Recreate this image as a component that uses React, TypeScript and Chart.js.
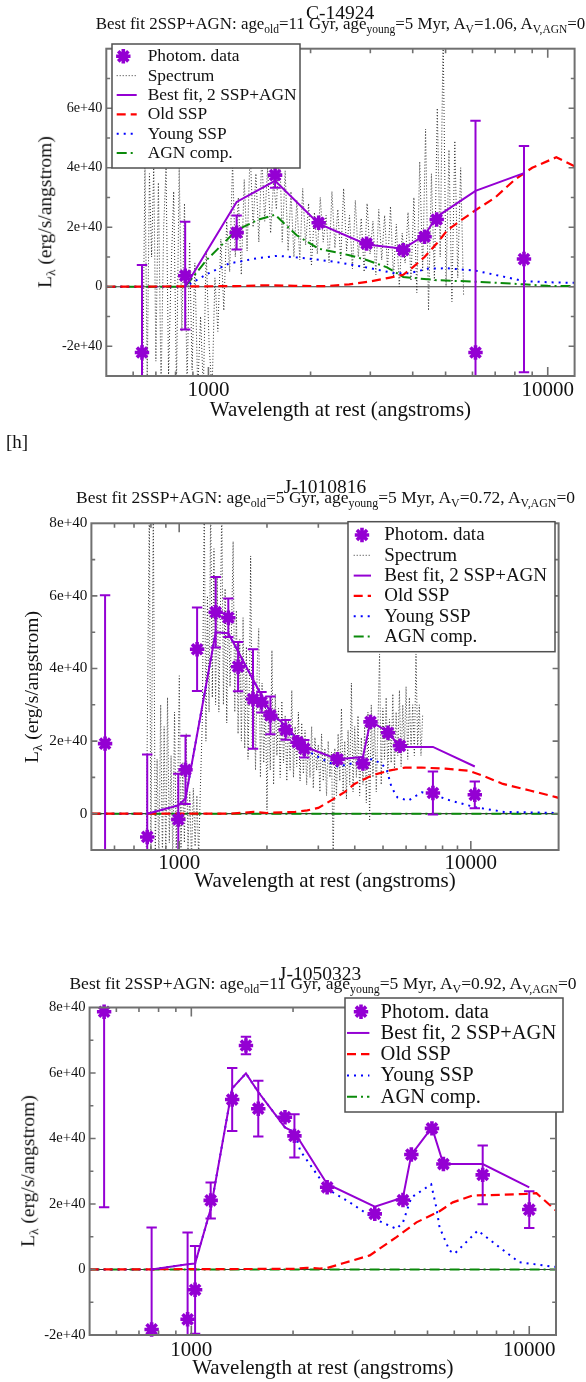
import React, { useEffect, useRef } from "react";
import { Chart, registerables } from "chart.js";

Chart.register(...registerables);

const SERIF = '"Liberation Serif", "Times New Roman", serif';
const PURPLE = "#9400d3";
const RED = "#ff0000";
const BLUE = "#0000ff";
const GREEN = "#0a8a0a";
const SPEC_GREY = "#333333";
const FRAME_GREY = "#707070";

// Flux densities are in units of 1e40 erg/s/angstrom, wavelengths in angstroms.

// ---------- C-14924 ----------
const c1PhotWave = [637, 854, 1211, 1572, 2113, 2925, 3751, 4335, 4707, 6125, 8511];
const c1PhotFlux = [-2.21, 0.37, 1.82, 3.75, 2.15, 1.45, 1.23, 1.68, 2.26, -2.21, 0.93];
const c1PhotErr = [2.94, 1.81, 0.57, 0.42, 0.1, 0.08, 0.08, 0.1, 0.1, 7.79, 3.8];
const c1FitWave = [854, 1211, 1572, 2113, 2925, 3751, 4335, 4707, 6125, 8511];
const c1FitFlux = [0.0, 2.85, 3.56, 2.12, 1.42, 1.28, 1.73, 2.35, 3.22, 3.82];
const c1OldWave = [500, 1200, 1500, 1800, 2200, 2600, 3000, 3400, 3751, 4000, 4335, 4707, 5060, 5500, 6125, 7000, 8000, 9000, 10600, 12000];
const c1OldFlux = [0, 0.02, 0.05, 0.03, 0.02, 0.08, 0.18, 0.3, 0.4, 0.65, 1.0, 1.45, 1.9, 2.2, 2.57, 3.0, 3.6, 4.0, 4.35, 4.05];
const c1YoungWave = [500, 854, 1000, 1150, 1410, 1600, 1970, 2350, 2925, 3540, 3900, 4450, 5060, 6125, 7400, 8511, 10000, 12000];
const c1YoungFlux = [0, 0, 0.45, 0.78, 0.97, 1.04, 0.95, 0.84, 0.65, 0.45, 0.45, 0.61, 0.62, 0.54, 0.34, 0.19, 0.15, 0.13];
const c1AgnWave = [500, 854, 988, 1211, 1400, 1572, 1820, 2113, 2600, 2925, 3360, 3751, 4707, 6125, 8511, 10000, 12000];
const c1AgnFlux = [0, 0, 0.9, 1.9, 2.25, 2.42, 1.73, 1.28, 1.06, 0.9, 0.65, 0.33, 0.22, 0.17, 0.08, 0.03, 0.02];
const c1SpecWave = [640, 650, 660, 670, 680, 690, 700, 712, 725, 738, 750, 763, 776, 790, 805, 820, 835, 850, 865, 880, 895, 912, 930, 948, 966, 985, 1005, 1025, 1045, 1066, 1088, 1110, 1132, 1155, 1178, 1200, 1225, 1250, 1275, 1300, 1327, 1354, 1380, 1408, 1436, 1465, 1494, 1525, 1555, 1586, 1618, 1650, 1683, 1717, 1751, 1786, 1822, 1859, 1896, 1934, 1973, 2012, 2053, 2094, 2136, 2179, 2222, 2267, 2312, 2359, 2406, 2454, 2503, 2554, 2605, 2657, 2710, 2765, 2820, 2877, 2935, 2994, 3054, 3115, 3177, 3241, 3306, 3372, 3440, 3509, 3579, 3651, 3724, 3799, 3875, 3953, 4032, 4113, 4195, 4279, 4365, 4453, 4542, 4633, 4726, 4820, 4917, 5016, 5116, 5219, 5323, 5430, 5539, 5650];
const c1SpecFlux = [-3.5, 4.2, -3.2, 3.8, 1.0, 4.1, -2.5, 3.5, -3.5, 2.0, 4.0, -3.0, 0.5, 3.2, -3.4, 4.0, -1.5, 2.8, -3.5, 1.5, -2.8, 0.8, -3.5, -1.0, -3.5, 1.2, -2.0, -3.5, 0.3, -1.5, 1.6, -0.8, 2.2, 0.5, 4.2, 1.0, 3.0, 0.4, 3.6, 1.2, 4.6, 2.0, 3.8, 1.5, 4.4, 2.2, 4.0, 1.8, 3.5, 2.6, 5.1, 1.5, 3.9, 1.2, 3.2, 1.0, 2.9, 0.9, 3.3, 1.4, 2.8, 0.7, 2.5, 1.1, 3.0, 1.5, 2.4, 0.8, 3.2, 1.3, 2.6, 0.9, 3.3, 1.2, 2.4, 0.6, 2.9, 1.0, 2.3, 0.5, 2.8, 1.1, 2.2, 0.4, 2.6, 0.9, 2.4, 0.6, 2.7, 0.3, 2.1, 0.0, 1.8, 0.8, 2.5, 0.2, 3.0, -0.2, 4.2, 0.5, 5.3, -0.8, 3.8, 0.2, 6.0, 1.0, 8.5, 0.0, 4.6, -0.5, 4.9, 0.3, 4.0, -0.3];
const c1YLabels = [-2, 0, 2, 4, 6];

// ---------- J-1010816 ----------
const j1PhotWave = [557, 777, 993, 1051, 1152, 1334, 1474, 1592, 1791, 1915, 2055, 2318, 2546, 2685, 3491, 4266, 4529, 5200, 5715, 7415, 10320];
const j1PhotFlux = [1.93, -0.64, -0.16, 1.21, 4.53, 5.55, 5.4, 4.05, 3.16, 3.07, 2.71, 2.31, 1.97, 1.79, 1.5, 1.38, 2.53, 2.23, 1.87, 0.57, 0.52];
const j1PhotErr = [4.09, 2.27, 1.26, 0.94, 1.15, 0.97, 0.53, 0.68, 1.37, 0.28, 0.52, 0.27, 0.1, 0.24, 0.1, 0.1, 0.1, 0.1, 0.1, 0.59, 0.37];
const j1FitWave = [777, 993, 1051, 1334, 1474, 2055, 2318, 2546, 2685, 3491, 4266, 4529, 5200, 5715, 7415, 10320];
const j1FitFlux = [0.0, 0.23, 0.42, 5.0, 4.97, 2.8, 2.42, 2.05, 1.85, 1.5, 1.56, 2.55, 2.25, 1.84, 1.84, 1.3];
const j1OldWave = [500, 1500, 1800, 2000, 2300, 2500, 2750, 3000, 3311, 3700, 3990, 4560, 5204, 5945, 6790, 8187, 9867, 10980, 12880, 15940, 19720, 20000];
const j1OldFlux = [0, 0, 0.05, 0.02, 0.04, 0.05, 0.09, 0.16, 0.36, 0.6, 0.82, 1.05, 1.18, 1.27, 1.27, 1.24, 1.18, 1.05, 0.82, 0.64, 0.45, 0.43];
const j1YoungWave = [500, 777, 993, 1051, 1334, 1474, 2055, 2318, 2546, 2685, 2750, 3100, 3491, 4000, 4266, 4560, 4900, 5140, 5347, 5600, 6100, 6800, 7415, 8200, 10320, 13000, 20000];
const j1YoungFlux = [0, 0, 0.23, 0.42, 5.0, 4.97, 2.8, 2.4, 2.0, 1.8, 1.73, 1.5, 1.3, 1.4, 1.45, 1.5, 1.4, 1.23, 0.73, 0.45, 0.36, 0.59, 0.55, 0.4, 0.18, 0.05, 0.02];
const j1AgnWave = [500, 20000];
const j1AgnFlux = [0, 0];
const j1SpecPairs = [
  [770, -1.5], [790, 8.5], [800, -1.2], [815, 8.5], [828, -1.0], [840, 1.5], [852, -1.3], [864, 3.0],
  [876, -1.2], [888, 2.4], [900, -1.4], [912, 3.2], [925, -0.8], [938, 1.6], [951, -1.3], [964, 2.8],
  [977, -1.0], [990, 1.0], [1001, 3.8], [1014, -1.2], [1028, 1.4], [1042, -0.8], [1057, 2.2], [1072, -1.0],
  [1087, 0.6], [1102, -1.3], [1118, 0.7], [1134, -0.9], [1150, 0.5], [1166, -1.2], [1182, 0.7], [1200, 2.5],
  [1219, 8.5], [1235, 2.0], [1250, 6.0], [1266, 2.8], [1282, 8.5], [1299, 3.2], [1316, 7.3], [1333, 3.0],
  [1350, 6.5], [1368, 2.8], [1386, 5.8], [1400, 8.5], [1418, 3.0], [1437, 6.2], [1456, 2.5], [1475, 5.9],
  [1494, 3.5], [1513, 5.2], [1531, 7.5], [1551, 2.8], [1571, 5.6], [1592, 2.2], [1613, 4.8], [1634, 2.0],
  [1656, 5.4], [1678, 1.8], [1700, 4.6], [1722, 1.5], [1745, 4.2], [1758, 7.1], [1780, 1.8], [1803, 3.8],
  [1827, 1.2], [1851, 4.0], [1874, 5.1], [1899, 1.0], [1924, 3.6], [1949, 1.4], [1975, 3.2], [2000, 0.1],
  [2026, 3.0], [2053, 1.2], [2080, 4.5], [2107, 0.8], [2135, 3.3], [2163, 1.6], [2191, 2.9], [2220, 1.0],
  [2249, 3.1], [2279, 1.4], [2309, 2.7], [2339, 0.9], [2370, 2.6], [2401, 1.2], [2433, 3.4], [2465, 1.0],
  [2497, 2.4], [2530, 1.3], [2563, 2.8], [2597, 0.9], [2631, 2.5], [2666, 1.1], [2701, 2.3], [2736, 0.8],
  [2772, 2.0], [2809, 1.0], [2846, 2.4], [2883, 0.7], [2921, 2.1], [2960, 1.2], [2999, 1.9], [3038, 0.6],
  [3078, 2.2], [3119, 0.9], [3160, 1.8], [3201, 0.5], [3243, 2.0], [3286, 1.0], [3329, 1.7], [3373, -1.2],
  [3417, 1.8], [3462, 0.5], [3508, 2.2], [3554, 0.9], [3601, 2.9], [3648, 0.6], [3696, 2.0], [3745, 0.4],
  [3794, 2.3], [3844, 0.8], [3895, 3.6], [3946, 0.6], [3998, 2.4], [4051, 1.0], [4104, 2.7], [4158, 0.5],
  [4213, 2.1], [4268, 0.8], [4325, 2.4], [4382, 0.3], [4439, 2.8], [4498, -0.2], [4557, 3.0], [4617, 1.0],
  [4678, 2.6], [4740, 0.6], [4802, 2.4], [4865, 4.4], [4929, 0.8], [4994, 2.9], [5060, 1.5], [5126, 3.2],
  [5194, 1.1], [5262, 2.6], [5332, 1.4], [5402, 3.3], [5473, 1.2], [5545, 2.8], [5618, 1.6], [5692, 3.4],
  [5767, 1.3], [5843, 3.0], [5920, 1.8], [5998, 3.5], [6077, 1.5], [6157, 3.2], [6238, 1.8], [6320, 3.0],
  [6403, 1.6], [6487, 4.4], [6573, 1.8], [6659, 3.0], [6747, 1.6], [6836, 2.7],
];
const j1SpecWave = j1SpecPairs.map((p) => p[0]);
const j1SpecFlux = j1SpecPairs.map((p) => p[1]);
const j1YLabels = [0, 2, 4, 6, 8];

// ---------- J-1050323 ----------
const j2PhotWave = [552, 763, 975, 1026, 1141, 1321, 1451, 1578, 1893, 2019, 2523, 3491, 4230, 4478, 5153, 5571, 7282, 10000];
const j2PhotFlux = [7.87, -1.83, -1.52, -0.62, 2.11, 5.19, 6.84, 4.91, 4.65, 4.08, 2.51, 1.7, 2.12, 3.51, 4.31, 3.22, 2.89, 1.83];
const j2PhotErr = [5.97, 3.11, 2.65, 1.34, 0.55, 0.96, 0.27, 0.85, 0.1, 0.66, 0.1, 0.1, 0.1, 0.1, 0.1, 0.1, 0.9, 0.56];
const j2FitWave = [763, 975, 1026, 1141, 1321, 1451, 1578, 1893, 2019, 2523, 3491, 4230, 4478, 5153, 5571, 7282, 10000];
const j2FitFlux = [0.0, 0.16, 0.18, 1.85, 5.53, 5.99, 5.42, 4.34, 4.19, 2.61, 1.92, 2.2, 3.51, 4.34, 3.22, 3.22, 2.51];
const j2OldWave = [500, 2000, 2200, 2400, 2512, 2812, 3374, 4046, 4637, 5427, 5940, 6810, 8157, 9776, 10500, 11850, 12000];
const j2OldFlux = [0, 0.02, 0.05, 0.03, 0.04, 0.19, 0.43, 0.99, 1.44, 1.78, 2.05, 2.26, 2.28, 2.31, 2.33, 1.85, 1.8];
const j2YoungWave = [500, 763, 975, 1026, 1141, 1321, 1451, 1578, 1893, 2019, 2100, 2523, 2944, 3491, 4046, 4230, 4478, 4956, 5127, 5308, 5427, 5807, 6010, 7046, 8157, 9344, 11720, 12000];
const j2YoungFlux = [0, 0, 0.16, 0.18, 1.85, 5.53, 5.99, 5.42, 4.34, 4.19, 3.63, 2.46, 2.05, 1.54, 1.24, 1.44, 2.2, 2.5, 2.6, 1.9, 1.29, 0.58, 0.48, 1.19, 0.68, 0.22, 0.09, 0.08];
const j2AgnWave = [500, 12000];
const j2AgnFlux = [0, 0];
const j2YLabels = [-2, 0, 2, 4, 6, 8];

// Line / marker styles shared by the plotted series and the legend keys
const STYLES = {
  phot: { color: PURPLE, radius: 7.2, width: 3.6 },
  spec: { color: SPEC_GREY, width: 1, dash: [1, 2] },
  fit: { color: PURPLE, width: 2, dash: [] },
  old: { color: RED, width: 2.2, dash: [9, 5] },
  young: { color: BLUE, width: 2, dash: [2, 5] },
  agn: { color: GREEN, width: 2, dash: [10, 4, 2, 4] },
};

const LEGEND_LABELS = {
  phot: "Photom. data",
  spec: "Spectrum",
  fit: "Best fit, 2 SSP+AGN",
  old: "Old SSP",
  young: "Young SSP",
  agn: "AGN comp.",
};

const panels = [
  {
    id: "c14924",
    name: "C-14924",
    ageOld: "11 Gyr",
    ageYoung: "5 Myr",
    av: "1.06",
    band: { top: 0, height: 430 },
    plot: { left: 106.3, top: 48.7, right: 574.6, bottom: 376 },
    xRange: [500, 12000],
    yRange: [-3, 8],
    yLabels: c1YLabels,
    titleX: 340,
    titleY: 13,
    subX: 340.5,
    subY: 24,
    subSize: 16.9,
    yTitleX: 45,
    yTickSize: 14.2,
    xTickY: 390.7,
    xTitleY: 410,
    legend: { x: 112, y: 44, w: 188, h: 124, row0: 56.3, step: 19.35, sym0: 116.7, sym1: 136.7, mark: 123.3, text: 147.7, size: 17.4 },
    keys: ["phot", "spec", "fit", "old", "young", "agn"],
    series: {
      phot: [c1PhotWave, c1PhotFlux, c1PhotErr],
      fit: [c1FitWave, c1FitFlux],
      old: [c1OldWave, c1OldFlux],
      young: [c1YoungWave, c1YoungFlux],
      agn: [c1AgnWave, c1AgnFlux],
      spec: [c1SpecWave, c1SpecFlux],
    },
  },
  {
    id: "j1010816",
    name: "J-1010816",
    ageOld: "5 Gyr",
    ageYoung: "5 Myr",
    av: "0.72",
    band: { top: 455, height: 445 },
    plot: { left: 91.4, top: 523.3, right: 558.6, bottom: 850 },
    xRange: [500, 20000],
    yRange: [-1, 8],
    yLabels: j1YLabels,
    titleX: 325,
    titleY: 487,
    subX: 325.5,
    subY: 497.8,
    subSize: 17.5,
    yTitleX: 32,
    yTickSize: 15.2,
    xTickY: 863.3,
    xTitleY: 881.7,
    legend: { x: 348, y: 521.7, w: 207, h: 130, row0: 535, step: 20.3, sym0: 353.7, sym1: 371, mark: 362, text: 384.3, size: 19 },
    keys: ["phot", "spec", "fit", "old", "young", "agn"],
    series: {
      phot: [j1PhotWave, j1PhotFlux, j1PhotErr],
      fit: [j1FitWave, j1FitFlux],
      old: [j1OldWave, j1OldFlux],
      young: [j1YoungWave, j1YoungFlux],
      agn: [j1AgnWave, j1AgnFlux],
      spec: [j1SpecWave, j1SpecFlux],
    },
  },
  {
    id: "j1050323",
    name: "J-1050323",
    ageOld: "11 Gyr",
    ageYoung: "5 Myr",
    av: "0.92",
    band: { top: 950, height: 432 },
    plot: { left: 89.6, top: 1007.5, right: 556, bottom: 1335 },
    xRange: [500, 12000],
    yRange: [-2, 8],
    yLabels: j2YLabels,
    titleX: 320,
    titleY: 973.7,
    subX: 323,
    subY: 984,
    subSize: 17.5,
    yTitleX: 28,
    yTickSize: 14.6,
    xTickY: 1350,
    xTitleY: 1368.3,
    legend: { x: 345, y: 998, w: 218, h: 114, row0: 1011.7, step: 21.25, sym0: 347, sym1: 369.4, mark: 361, text: 380.6, size: 20.5 },
    keys: ["phot", "fit", "old", "young", "agn"],
    series: {
      phot: [j2PhotWave, j2PhotFlux, j2PhotErr],
      fit: [j2FitWave, j2FitFlux],
      old: [j2OldWave, j2OldFlux],
      young: [j2YoungWave, j2YoungFlux],
      agn: [j2AgnWave, j2AgnFlux],
    },
  },
];

const toPoints = (w, f) => w.map((x, i) => ({ x, y: f[i] }));

const fmtFlux = (v) => (v === 0 ? "0" : `${v}e+40`);

function drawAsterisk(ctx, x, y, r, lw, color) {
  ctx.save();
  ctx.strokeStyle = color;
  ctx.lineWidth = lw;
  ctx.setLineDash([]);
  ctx.beginPath();
  for (let k = 0; k < 4; k++) {
    const a = (k * Math.PI) / 4;
    ctx.moveTo(x + Math.cos(a) * r, y + Math.sin(a) * r);
    ctx.lineTo(x - Math.cos(a) * r, y - Math.sin(a) * r);
  }
  ctx.stroke();
  ctx.restore();
}

// Zero line, error bars, inward tick marks, frame and the in-plot legend box
function makeDecorations(p) {
  const [pw, pf, pe] = p.series.phot;
  return {
    id: "sedDecor",
    beforeDatasetsDraw(chart) {
      const { ctx, chartArea: a } = chart;
      const y0 = chart.scales.y.getPixelForValue(0);
      ctx.save();
      ctx.strokeStyle = "#3a3a3a";
      ctx.lineWidth = 1.2;
      ctx.beginPath();
      ctx.moveTo(a.left, y0);
      ctx.lineTo(a.right, y0);
      ctx.stroke();
      ctx.restore();
    },
    beforeDatasetDraw(chart, args) {
      if (args.index !== 0) return;
      const { ctx, chartArea: a } = chart;
      const xs = chart.scales.x;
      const ys = chart.scales.y;
      const cap = 5.2;
      ctx.save();
      ctx.beginPath();
      ctx.rect(a.left, a.top, a.right - a.left, a.bottom - a.top);
      ctx.clip();
      ctx.strokeStyle = PURPLE;
      ctx.lineWidth = 2;
      ctx.setLineDash([]);
      for (let i = 0; i < pw.length; i++) {
        const px = xs.getPixelForValue(pw[i]);
        const yt = ys.getPixelForValue(pf[i] + pe[i]);
        const yb = ys.getPixelForValue(pf[i] - pe[i]);
        ctx.beginPath();
        ctx.moveTo(px, yt);
        ctx.lineTo(px, yb);
        ctx.moveTo(px - cap, yt);
        ctx.lineTo(px + cap, yt);
        ctx.moveTo(px - cap, yb);
        ctx.lineTo(px + cap, yb);
        ctx.stroke();
      }
      ctx.restore();
    },
    afterDatasetsDraw(chart) {
      const { ctx, chartArea: a } = chart;
      const xs = chart.scales.x;
      const ys = chart.scales.y;
      ctx.save();
      ctx.setLineDash([]);
      ctx.strokeStyle = FRAME_GREY;
      ctx.lineWidth = 1.6;
      ctx.beginPath();
      const e0 = Math.floor(Math.log10(xs.min));
      const e1 = Math.ceil(Math.log10(xs.max));
      for (let e = e0; e <= e1; e++) {
        for (let d = 1; d <= 9; d++) {
          const v = d * Math.pow(10, e);
          if (v <= xs.min || v >= xs.max) continue;
          const px = xs.getPixelForValue(v);
          const len = d === 1 ? 9 : 4.5;
          ctx.moveTo(px, a.bottom);
          ctx.lineTo(px, a.bottom - len);
          ctx.moveTo(px, a.top);
          ctx.lineTo(px, a.top + len);
        }
      }
      for (let v = Math.ceil(ys.min); v <= Math.floor(ys.max); v++) {
        if (v === ys.min || v === ys.max) continue;
        const py = ys.getPixelForValue(v);
        const len = v % 2 === 0 ? 6 : 3.8;
        ctx.moveTo(a.left, py);
        ctx.lineTo(a.left + len, py);
        ctx.moveTo(a.right, py);
        ctx.lineTo(a.right - len, py);
      }
      ctx.stroke();
      ctx.lineWidth = 2;
      ctx.strokeRect(a.left, a.top, a.right - a.left, a.bottom - a.top);
      ctx.restore();

      // legend box
      const L = p.legend;
      const oy = p.band.top;
      ctx.save();
      ctx.fillStyle = "#ffffff";
      ctx.fillRect(L.x, L.y - oy, L.w, L.h);
      ctx.strokeStyle = "#505050";
      ctx.lineWidth = 1.5;
      ctx.strokeRect(L.x, L.y - oy, L.w, L.h);
      ctx.font = `${L.size}px ${SERIF}`;
      ctx.textBaseline = "middle";
      ctx.textAlign = "left";
      p.keys.forEach((k, i) => {
        const y = L.row0 - oy + i * L.step;
        const st = STYLES[k];
        if (k === "phot") {
          drawAsterisk(ctx, L.mark, y, st.radius, st.width, st.color);
        } else {
          ctx.save();
          ctx.strokeStyle = st.color;
          ctx.lineWidth = st.width;
          ctx.setLineDash(st.dash);
          ctx.beginPath();
          ctx.moveTo(L.sym0, y);
          ctx.lineTo(L.sym1, y);
          ctx.stroke();
          ctx.restore();
        }
        ctx.fillStyle = "#111";
        ctx.fillText(LEGEND_LABELS[k], L.text, y + 0.5);
      });
      ctx.restore();
    },
  };
}

function buildDatasets(p) {
  const s = p.series;
  const line = (key, pts, order) => ({
    label: LEGEND_LABELS[key],
    data: pts,
    borderColor: STYLES[key].color,
    borderWidth: STYLES[key].width,
    borderDash: STYLES[key].dash,
    pointRadius: 0,
    tension: 0,
    fill: false,
    order,
  });
  const ds = [
    {
      label: LEGEND_LABELS.phot,
      data: toPoints(s.phot[0], s.phot[1]),
      showLine: false,
      pointStyle: "star",
      pointRadius: STYLES.phot.radius,
      pointBorderWidth: STYLES.phot.width,
      pointBorderColor: PURPLE,
      pointBackgroundColor: PURPLE,
      borderColor: PURPLE,
      clip: false,
      order: 0,
    },
    line("fit", toPoints(s.fit[0], s.fit[1]), 1),
    line("old", toPoints(s.old[0], s.old[1]), 2),
    line("young", toPoints(s.young[0], s.young[1]), 3),
    line("agn", toPoints(s.agn[0], s.agn[1]), 4),
  ];
  if (s.spec) ds.push(line("spec", toPoints(s.spec[0], s.spec[1]), 5));
  return ds;
}

function SedPanel({ p }) {
  const ref = useRef(null);
  useEffect(() => {
    const canvas = ref.current;
    if (!canvas) return;
    const { band, plot } = p;
    const xTickFont = 21;
    const xTitleFont = 21;
    const xAxisHeight = band.top + band.height - plot.bottom;
    const chart = new Chart(canvas, {
      type: "line",
      data: { datasets: buildDatasets(p) },
      options: {
        animation: false,
        responsive: false,
        devicePixelRatio: 1,
        events: [],
        layout: {
          padding: { left: 0, right: 586 - plot.right, top: plot.top - band.top, bottom: 0 },
        },
        plugins: {
          legend: { display: false },
          tooltip: { enabled: false },
          title: { display: false },
        },
        scales: {
          x: {
            type: "logarithmic",
            min: p.xRange[0],
            max: p.xRange[1],
            grid: { display: false, drawTicks: false },
            border: { display: false },
            ticks: {
              autoSkip: false,
              maxRotation: 0,
              minRotation: 0,
              padding: p.xTickY - plot.bottom - 0.6 * xTickFont,
              color: "#111",
              font: { family: SERIF, size: xTickFont },
              callback: (value) => {
                const v = Number(value);
                return v === 1000 || v === 10000 ? String(v) : "";
              },
            },
            title: {
              display: true,
              text: "Wavelength at rest (angstroms)",
              color: "#111",
              font: { family: SERIF, size: xTitleFont },
              padding: { top: 0, bottom: band.top + band.height - p.xTitleY - 0.6 * xTitleFont },
            },
            afterFit: (scale) => {
              scale.height = xAxisHeight;
            },
          },
          y: {
            type: "linear",
            min: p.yRange[0],
            max: p.yRange[1],
            grid: { display: false, drawTicks: false },
            border: { display: false },
            ticks: {
              stepSize: 1,
              autoSkip: false,
              padding: 4,
              color: "#111",
              font: { family: SERIF, size: p.yTickSize },
              callback: (value) => {
                const v = Number(value);
                return p.yLabels.includes(v) ? fmtFlux(v) : "";
              },
            },
            afterFit: (scale) => {
              scale.width = plot.left;
            },
          },
        },
      },
      plugins: [makeDecorations(p)],
    });
    return () => chart.destroy();
  }, [p]);

  const sub = (t) => (
    <span style={{ fontSize: "0.68em", position: "relative", top: "0.32em" }}>{t}</span>
  );
  const centered = {
    position: "absolute",
    transform: "translate(-50%, -50%)",
    whiteSpace: "nowrap",
    lineHeight: 1,
    fontFamily: SERIF,
    color: "#111",
  };
  const plotMidY = (p.plot.top + p.plot.bottom) / 2;

  return (
    <>
      <canvas
        ref={ref}
        width={586}
        height={p.band.height}
        style={{ position: "absolute", left: 0, top: p.band.top, width: 586, height: p.band.height }}
      />
      <div style={{ ...centered, left: p.subX, top: p.subY, fontSize: p.subSize }}>
        Best fit 2SSP+AGN: age{sub("old")}={p.ageOld}, age{sub("young")}={p.ageYoung}, A{sub("V")}={p.av}, A
        {sub("V,AGN")}=0
      </div>
      <div style={{ ...centered, left: p.titleX, top: p.titleY, fontSize: 19.5 }}>{p.name}</div>
      <div
        style={{
          ...centered,
          left: p.yTitleX,
          top: plotMidY,
          fontSize: 19.5,
          transform: "translate(-50%, -50%) rotate(-90deg)",
        }}
      >
        L{sub("λ")} (erg/s/angstrom)
      </div>
    </>
  );
}

export default function App() {
  return (
    <div
      style={{
        position: "absolute",
        left: 0,
        top: 0,
        width: 586,
        height: 1382,
        background: "#ffffff",
        overflow: "hidden",
      }}
    >
      {panels.map((p) => (
        <SedPanel key={p.id} p={p} />
      ))}
      <div
        style={{
          position: "absolute",
          left: 6,
          top: 441,
          transform: "translateY(-50%)",
          fontFamily: SERIF,
          fontSize: 19,
          lineHeight: 1,
          color: "#111",
        }}
      >
        [h]
      </div>
    </div>
  );
}
